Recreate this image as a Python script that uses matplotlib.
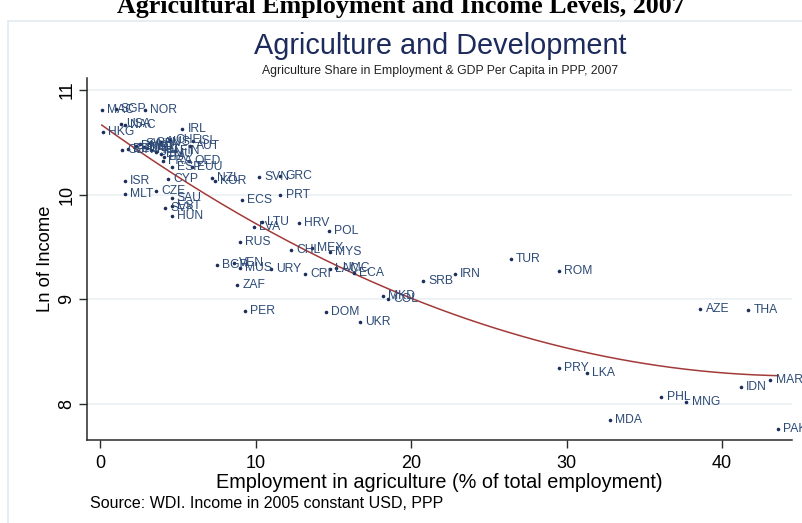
import numpy as np
import matplotlib
matplotlib.use("Agg")
import matplotlib.pyplot as plt
from matplotlib.lines import Line2D

plt.rcParams['font.family'] = ['Liberation Sans', 'DejaVu Sans']

# Country / aggregate codes with agricultural employment share (%) and ln GDP per capita (PPP)
codes = ["MAC", "SGP", "NOR", "HKG", "USA", "NAC", "IRL", "ISL", "AUT", "CHE",
         "AUS", "GBR", "BEL", "DNK", "SWE", "NLD", "DEU", "CAN", "JPN", "HIC",
         "EMU", "FIN", "ITA", "FRA", "OED", "ESP", "EUU", "ISR", "MLT", "CZE",
         "CYP", "SAU", "EST", "SVK", "HUN", "NZL", "KOR", "SVN", "GRC", "PRT",
         "ECS", "LTU", "LVA", "HRV", "POL", "RUS", "CHL", "MEX", "MYS", "BGR",
         "VEN", "MUS", "URY", "ZAF", "PER", "CRI", "LAC", "UMC", "ECA", "MKD",
         "COL", "SRB", "IRN", "TUR", "ROM", "DOM", "UKR", "AZE", "THA", "PRY",
         "LKA", "PHL", "MNG", "MDA", "IDN", "MAR", "PAK"]
agri_share = [0.11, 1.0, 2.9, 0.17, 1.35, 1.6, 5.3, 6.0, 5.8, 4.5,
              3.9, 1.4, 1.8, 2.3, 2.6, 2.8, 3.0, 3.2, 3.6, 3.3,
              3.9, 4.8, 4.1, 4.05, 5.7, 4.6, 5.9, 1.6, 1.6, 3.6,
              4.4, 4.6, 4.6, 4.2, 4.6, 7.2, 7.4, 10.2, 11.6, 11.6,
              9.1, 10.4, 9.9, 12.8, 14.7, 9.0, 12.3, 13.6, 14.8, 7.5,
              8.6, 9.0, 11.0, 8.8, 9.3, 13.2, 14.8, 15.2, 16.3, 18.2,
              18.5, 20.8, 22.8, 26.4, 29.5, 14.5, 16.7, 38.6, 41.7, 29.5,
              31.3, 36.1, 37.7, 32.8, 41.2, 43.1, 43.6]
ln_income = [10.81, 10.82, 10.81, 10.60, 10.68, 10.67, 10.63, 10.51, 10.47, 10.52,
             10.50, 10.43, 10.44, 10.47, 10.48, 10.46, 10.45, 10.49, 10.41, 10.43,
             10.39, 10.42, 10.36, 10.32, 10.32, 10.26, 10.26, 10.13, 10.01, 10.04,
             10.15, 9.97, 9.89, 9.87, 9.80, 10.16, 10.13, 10.17, 10.18, 10.00,
             9.95, 9.74, 9.69, 9.73, 9.65, 9.55, 9.47, 9.49, 9.45, 9.33,
             9.35, 9.30, 9.29, 9.14, 8.89, 9.24, 9.29, 9.30, 9.25, 9.03,
             9.00, 9.18, 9.24, 9.39, 9.27, 8.88, 8.78, 8.91, 8.90, 8.34,
             8.30, 8.07, 8.02, 7.85, 8.16, 8.23, 7.76]

x_ticks = [0, 10, 20, 30, 40]
y_ticks = [8, 9, 10, 11]

x = np.array(agri_share)
y = np.array(ln_income)

fig = plt.figure(figsize=(8.02, 5.23), dpi=100)
fig.patch.set_facecolor("white")

# outer graph-region border
border = "#e3ebf1"
fig.add_artist(Line2D([8 / 802, 8 / 802], [0, 1 - 21 / 523], color=border, lw=1.2))
fig.add_artist(Line2D([8 / 802, 1], [1 - 21 / 523, 1 - 21 / 523], color=border, lw=1.2))

ax = fig.add_axes([87 / 802, 1 - 440 / 523, (792 - 87) / 802, (440 - 78) / 523])
ax.set_xlim(-0.84, 44.5)
ax.set_ylim(7.656, 11.115)

for yt in y_ticks:
    ax.axhline(yt, color="#e8f0f2", lw=1.1, zorder=0)

# quadratic fit of income on agricultural share
coef = np.polyfit(x, y, 2)
xf = np.linspace(x.min(), x.max(), 200)
ax.plot(xf, np.polyval(coef, xf), color="#a33a3a", lw=1.1, zorder=2)

ax.plot(x, y, "o", ms=2.6, color="#1b2f5a", mec="none", zorder=3)
for c, xi, yi in zip(codes, x, y):
    ax.annotate(c, (xi, yi), xytext=(3.8, 0), textcoords="offset points",
                va="center", ha="left", fontsize=8.7, color="#2c4a76",
                annotation_clip=False, clip_on=False, zorder=4)

for s in ["top", "right"]:
    ax.spines[s].set_visible(False)
for s in ["left", "bottom"]:
    ax.spines[s].set_color("#2a2a2a")
    ax.spines[s].set_linewidth(1.1)

ax.set_xticks(x_ticks)
ax.set_yticks(y_ticks)
ax.set_yticklabels([str(v) for v in y_ticks], rotation=90, va="center")
ax.tick_params(axis="both", length=5.5, width=1.0, color="#2a2a2a",
               labelsize=13)
ax.tick_params(axis="x", pad=5)
ax.tick_params(axis="y", pad=3)

ax.set_xlabel("Employment in agriculture (% of total employment)", fontsize=14.3,
              labelpad=1)
ax.set_ylabel("Ln of Income", fontsize=13.2, labelpad=3)

fig.text(401 / 802, 1 - 13 / 523, "Agricultural Employment and Income Levels, 2007",
         ha="center", va="baseline", fontsize=18.7, fontweight="bold",
         family="Liberation Serif")
fig.text(440 / 802, 1 - 54 / 523, "Agriculture and Development", ha="center",
         va="baseline", fontsize=20.8, color="#1c2b5c")
fig.text(440 / 802, 1 - 74 / 523,
         "Agriculture Share in Employment & GDP Per Capita in PPP, 2007",
         ha="center", va="baseline", fontsize=8.8, color="#222222")
fig.text(90 / 802, 1 - 508 / 523, "Source: WDI. Income in 2005 constant USD, PPP",
         ha="left", va="baseline", fontsize=11.5)

fig.savefig("out.png", dpi=100)
